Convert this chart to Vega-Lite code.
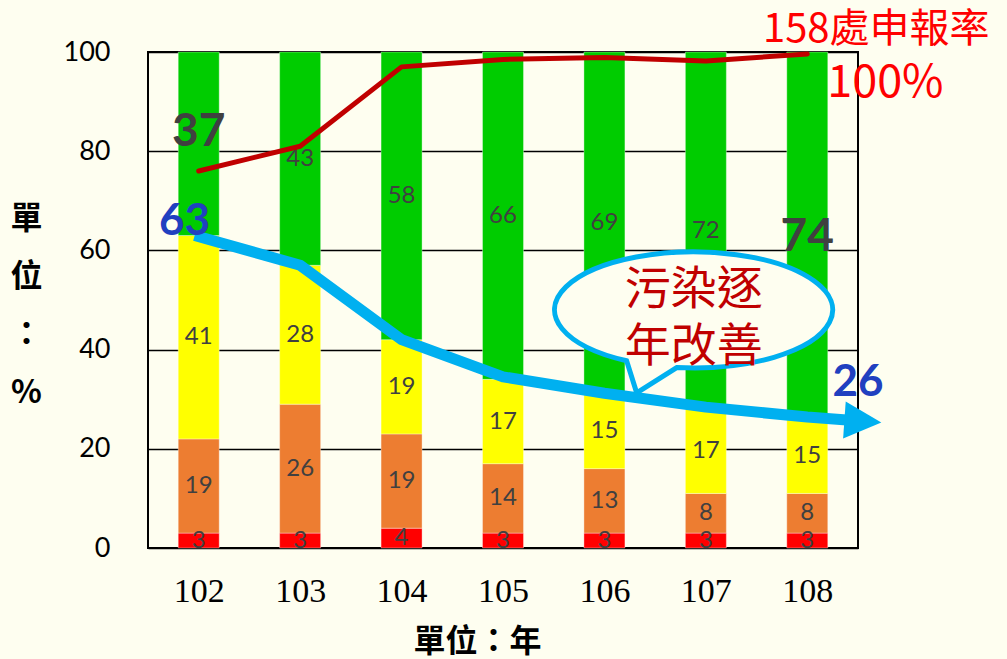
{
  "$schema": "https://vega.github.io/schema/vega-lite/v6.json",
  "width": 710,
  "height": 496,
  "autosize": {"type": "none"},
  "padding": {"left": 148, "top": 52, "right": 149, "bottom": 111},
  "background": "#FEFEF0",
  "config": {"view": {"stroke": "#000000", "strokeWidth": 2}, "font": "Lato"},
  "datasets": {
    "bars": [
      {"year": 102, "level": "紅", "rank": 1, "pct": 3},
      {"year": 102, "level": "橙", "rank": 2, "pct": 19},
      {"year": 102, "level": "黃", "rank": 3, "pct": 41},
      {"year": 102, "level": "綠", "rank": 4, "pct": 37},
      {"year": 103, "level": "紅", "rank": 1, "pct": 3},
      {"year": 103, "level": "橙", "rank": 2, "pct": 26},
      {"year": 103, "level": "黃", "rank": 3, "pct": 28},
      {"year": 103, "level": "綠", "rank": 4, "pct": 43},
      {"year": 104, "level": "紅", "rank": 1, "pct": 4},
      {"year": 104, "level": "橙", "rank": 2, "pct": 19},
      {"year": 104, "level": "黃", "rank": 3, "pct": 19},
      {"year": 104, "level": "綠", "rank": 4, "pct": 58},
      {"year": 105, "level": "紅", "rank": 1, "pct": 3},
      {"year": 105, "level": "橙", "rank": 2, "pct": 14},
      {"year": 105, "level": "黃", "rank": 3, "pct": 17},
      {"year": 105, "level": "綠", "rank": 4, "pct": 66},
      {"year": 106, "level": "紅", "rank": 1, "pct": 3},
      {"year": 106, "level": "橙", "rank": 2, "pct": 13},
      {"year": 106, "level": "黃", "rank": 3, "pct": 15},
      {"year": 106, "level": "綠", "rank": 4, "pct": 69},
      {"year": 107, "level": "紅", "rank": 1, "pct": 3},
      {"year": 107, "level": "橙", "rank": 2, "pct": 8},
      {"year": 107, "level": "黃", "rank": 3, "pct": 17},
      {"year": 107, "level": "綠", "rank": 4, "pct": 72},
      {"year": 108, "level": "紅", "rank": 1, "pct": 3},
      {"year": 108, "level": "橙", "rank": 2, "pct": 8},
      {"year": 108, "level": "黃", "rank": 3, "pct": 15},
      {"year": 108, "level": "綠", "rank": 4, "pct": 74}
    ],
    "rate": [
      {"year": 102, "pct": 76},
      {"year": 103, "pct": 81},
      {"year": 104, "pct": 97},
      {"year": 105, "pct": 98.5},
      {"year": 106, "pct": 98.9},
      {"year": 107, "pct": 98.2},
      {"year": 108, "pct": 99.6}
    ],
    "trend": [
      {"year": 101.96, "pct": 63},
      {"year": 103, "pct": 57},
      {"year": 104, "pct": 42},
      {"year": 105, "pct": 34.5},
      {"year": 106, "pct": 31.2},
      {"year": 107, "pct": 28.4},
      {"year": 108, "pct": 26.4},
      {"year": 108.39, "pct": 25.8}
    ],
    "arrowhead": [{"year": 108.73, "pct": 25.3}],
    "bubble": [{"year": 106.88, "pct": 48, "text": "污染逐\n年改善"}],
    "bigGray": [
      {"year": 102, "pct": 83.9, "text": "37"},
      {"year": 108, "pct": 62.7, "text": "74"}
    ],
    "bigBlue": [
      {"year": 101.86, "pct": 65.8, "text": "63"},
      {"year": 108.5, "pct": 33.3, "text": "26"}
    ],
    "redNote": [{"year": 108.68, "pct": 104.4, "text": "158處申報率"}],
    "redPct": [{"year": 108.77, "pct": 93.7, "text": "100%"}]
  },
  "layer": [
    {
      "data": {"name": "bars"},
      "mark": {"type": "bar", "width": 41, "stroke": "#ffffff", "strokeWidth": 0.6, "strokeOpacity": 0.6},
      "encoding": {
        "x": {
          "field": "year", "type": "quantitative",
          "scale": {"domain": [101.5, 108.5], "nice": false, "zero": false, "padding": 0},
          "axis": {
            "values": [102, 103, 104, 105, 106, 107, 108], "format": "d",
            "labelFont": "Liberation Serif", "labelFontSize": 34, "labelColor": "#000000",
            "labelPadding": 26, "labelFlush": false, "labelOverlap": false,
            "ticks": false, "domain": false, "grid": false,
            "title": "單位：年", "titleFont": "Noto Sans CJK TC", "titleFontSize": 32,
            "titleFontWeight": "bold", "titleColor": "#000000",
            "titleX": 329, "titleY": 93, "titleBaseline": "middle", "titleAlign": "center"
          }
        },
        "y": {
          "field": "pct", "type": "quantitative", "stack": "zero",
          "scale": {"domain": [0, 100], "nice": false, "zero": false},
          "axis": {
            "values": [0, 20, 40, 60, 80, 100],
            "grid": true, "gridColor": "#000000", "gridWidth": 1.5, "gridOpacity": 1,
            "ticks": false, "domain": false,
            "labelFont": "Lato", "labelFontSize": 27, "labelColor": "#000000",
            "labelPadding": 38, "labelFlush": false,
            "title": ["單", "位", "：", "%"], "titleAngle": 0,
            "titleFont": "Noto Sans CJK TC", "titleFontSize": 32, "titleFontWeight": "bold",
            "titleColor": "#000000", "titleLineHeight": 58,
            "titleX": -122, "titleY": 166, "titleBaseline": "middle", "titleAlign": "center"
          }
        },
        "color": {
          "field": "level", "type": "nominal",
          "scale": {"domain": ["紅", "橙", "黃", "綠"], "range": ["#FF0000", "#ED7D31", "#FFFF00", "#00CC00"]},
          "legend": null
        },
        "order": {"field": "rank", "type": "quantitative", "sort": "ascending"}
      }
    },
    {
      "data": {"name": "bars"},
      "transform": [
        {"stack": "pct", "groupby": ["year"], "sort": [{"field": "rank", "order": "ascending"}], "as": ["lo", "hi"]},
        {"calculate": "(datum.lo + datum.hi) / 2", "as": "mid"},
        {"filter": "!(datum.level == '綠' && (datum.year == 102 || datum.year == 108))"}
      ],
      "mark": {"type": "text", "font": "Lato", "fontSize": 24, "color": "#404040", "baseline": "middle", "align": "center"},
      "encoding": {
        "x": {"field": "year", "type": "quantitative"},
        "y": {"field": "mid", "type": "quantitative"},
        "text": {"field": "pct", "type": "quantitative"}
      }
    },
    {
      "data": {"name": "rate"},
      "mark": {"type": "line", "color": "#C00000", "strokeWidth": 5, "strokeCap": "round", "strokeJoin": "round"},
      "encoding": {
        "x": {"field": "year", "type": "quantitative"},
        "y": {"field": "pct", "type": "quantitative"}
      }
    },
    {
      "data": {"name": "bubble"},
      "mark": {
        "type": "point",
        "shape": "M -0.447 0.339 A 0.927 0.387 0 1 1 -0.113 0.384 L -0.38 0.553 Z",
        "size": 90000, "filled": true, "fill": "#FEFEF0", "fillOpacity": 1,
        "stroke": "#00B0F0", "strokeWidth": 5, "strokeOpacity": 1, "opacity": 1
      },
      "encoding": {
        "x": {"field": "year", "type": "quantitative"},
        "y": {"field": "pct", "type": "quantitative"}
      }
    },
    {
      "data": {"name": "bubble"},
      "mark": {"type": "text", "font": "Noto Sans CJK TC", "fontSize": 46, "lineHeight": 57, "lineBreak": "\n", "color": "#C00000", "baseline": "middle", "align": "center", "dy": -20},
      "encoding": {
        "x": {"field": "year", "type": "quantitative"},
        "y": {"field": "pct", "type": "quantitative"},
        "text": {"field": "text", "type": "nominal"}
      }
    },
    {
      "data": {"name": "trend"},
      "mark": {"type": "line", "color": "#00B0F0", "strokeWidth": 11, "strokeCap": "butt", "strokeJoin": "round"},
      "encoding": {
        "x": {"field": "year", "type": "quantitative"},
        "y": {"field": "pct", "type": "quantitative"}
      }
    },
    {
      "data": {"name": "arrowhead"},
      "mark": {"type": "point", "shape": "M -1 -0.5 L 0 0 L -1 0.5 Z", "size": 5476, "angle": 4, "filled": true, "fill": "#00B0F0", "fillOpacity": 1, "opacity": 1, "strokeWidth": 0},
      "encoding": {
        "x": {"field": "year", "type": "quantitative"},
        "y": {"field": "pct", "type": "quantitative"}
      }
    },
    {
      "data": {"name": "bigGray"},
      "mark": {"type": "text", "font": "Lato", "fontSize": 46, "fontWeight": "bold", "color": "#404040", "baseline": "middle", "align": "center"},
      "encoding": {
        "x": {"field": "year", "type": "quantitative"},
        "y": {"field": "pct", "type": "quantitative"},
        "text": {"field": "text", "type": "nominal"}
      }
    },
    {
      "data": {"name": "bigBlue"},
      "mark": {"type": "text", "font": "Lato", "fontSize": 44, "fontWeight": "bold", "color": "#2040C0", "baseline": "middle", "align": "center"},
      "encoding": {
        "x": {"field": "year", "type": "quantitative"},
        "y": {"field": "pct", "type": "quantitative"},
        "text": {"field": "text", "type": "nominal"}
      }
    },
    {
      "data": {"name": "redNote"},
      "mark": {"type": "text", "font": "Noto Sans CJK TC", "fontSize": 40, "color": "#FF0000", "baseline": "middle", "align": "center"},
      "encoding": {
        "x": {"field": "year", "type": "quantitative"},
        "y": {"field": "pct", "type": "quantitative"},
        "text": {"field": "text", "type": "nominal"}
      }
    },
    {
      "data": {"name": "redPct"},
      "mark": {"type": "text", "font": "Noto Sans CJK TC", "fontSize": 45, "color": "#FF0000", "baseline": "middle", "align": "center"},
      "encoding": {
        "x": {"field": "year", "type": "quantitative"},
        "y": {"field": "pct", "type": "quantitative"},
        "text": {"field": "text", "type": "nominal"}
      }
    }
  ]
}
